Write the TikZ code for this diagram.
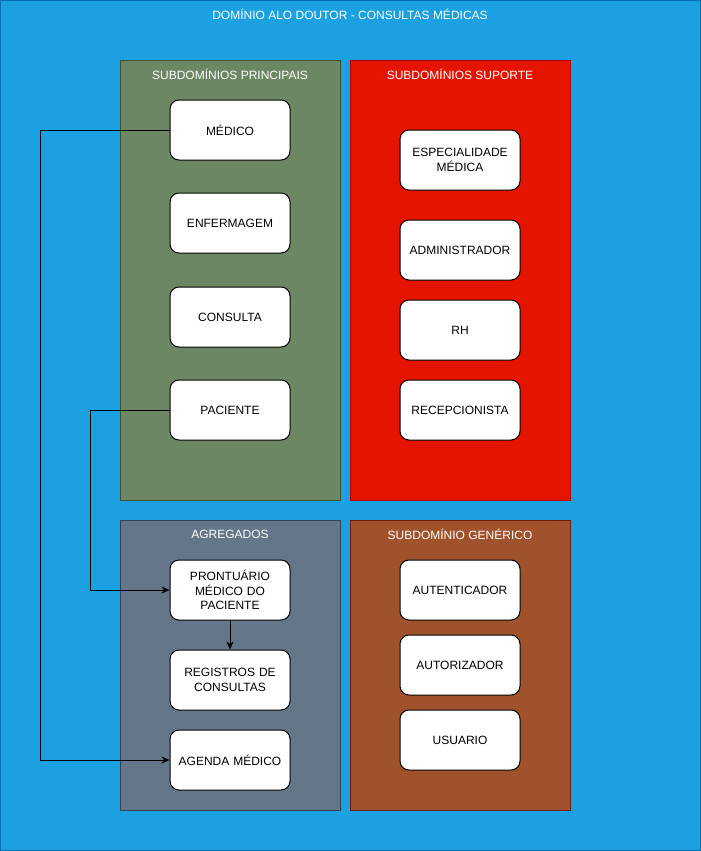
\documentclass[tikz,border=0pt]{standalone}
\usepackage{fontspec}
\setmainfont{Liberation Sans}
\usetikzlibrary{arrows.meta}
\definecolor{bgblue}{HTML}{1BA1E2}
\definecolor{bgblueline}{HTML}{006EAF}
\definecolor{cgreen}{HTML}{6D8764}
\definecolor{cgreenline}{HTML}{3A5431}
\definecolor{cred}{HTML}{E51400}
\definecolor{credline}{HTML}{B20000}
\definecolor{cgray}{HTML}{647687}
\definecolor{cgrayline}{HTML}{314354}
\definecolor{cbrown}{HTML}{A0522D}
\definecolor{cbrownline}{HTML}{6D1F00}
\tikzset{
  container/.style={draw, line width=1pt, minimum width=220pt, inner sep=0pt, anchor=north west},
  ttl/.style={text=white, font=\fontsize{12}{14.4}\selectfont, inner sep=0pt},
  item/.style={draw=black, fill=white, line width=1pt, rounded corners=9pt, minimum width=120pt, minimum height=60pt, align=center, font=\fontsize{12}{14.4}\selectfont, inner sep=2pt, text width=112pt},
  conn/.style={line width=1pt, -{Stealth[length=8pt,width=7pt,inset=2.5pt]}},
}
\begin{document}
\begin{tikzpicture}[x=1pt,y=-1pt]
\useasboundingbox (0,0) rectangle (701,851);
\fill[bgblue, draw=bgblueline, line width=1pt] (0.5,0.5) rectangle (700.5,850.5);
\node[ttl] (title) at (350,14) {DOMÍNIO ALO DOUTOR - CONSULTAS MÉDICAS};

% containers
\node[container, fill=cgreen, draw=cgreenline, minimum height=440pt] (princ) at (120,60) {};
\node[container, fill=cred, draw=credline, minimum height=440pt] (sup) at (350,60) {};
\node[container, fill=cgray, draw=cgrayline, minimum height=290pt] (agr) at (120,520) {};
\node[container, fill=cbrown, draw=cbrownline, minimum height=290pt] (gen) at (350,520) {};

\node[ttl] (tprinc) at (230,74) {SUBDOMÍNIOS PRINCIPAIS};
\node[ttl] (tsup) at (460,74) {SUBDOMÍNIOS SUPORTE};
\node[ttl] (tagr) at (230,534) {AGREGADOS};
\node[ttl] (tgen) at (460,534) {SUBDOMÍNIO GENÉRICO};

% principais
\node[item] (medico) at (230,130) {MÉDICO};
\node[item] (enferm) at (230,223) {ENFERMAGEM};
\node[item] (consulta) at (230,317) {CONSULTA};
\node[item] (paciente) at (230,410) {PACIENTE};

% suporte
\node[item] (espec) at (460,160) {ESPECIALIDADE\\MÉDICA};
\node[item] (admin) at (460,250) {ADMINISTRADOR};
\node[item] (rh) at (460,330) {RH};
\node[item] (recep) at (460,410) {RECEPCIONISTA};

% agregados
\node[item] (pront) at (230,590) {PRONTUÁRIO\\MÉDICO DO\\PACIENTE};
\node[item] (regs) at (230,680) {REGISTROS DE\\CONSULTAS};
\node[item] (agenda) at (230,760) {AGENDA MÉDICO};

% generico
\node[item] (autent) at (460,590) {AUTENTICADOR};
\node[item] (autor) at (460,665) {AUTORIZADOR};
\node[item] (usuario) at (460,740) {USUARIO};

% connectors
\coordinate (c1) at (40,130);
\coordinate (c2) at (90,410);
\draw[conn] (medico.west) -- (c1) |- (agenda.west);
\draw[conn] (paciente.west) -- (c2) |- (pront.west);
\draw[conn] (pront.south) -- (regs.north);
\end{tikzpicture}
\end{document}
